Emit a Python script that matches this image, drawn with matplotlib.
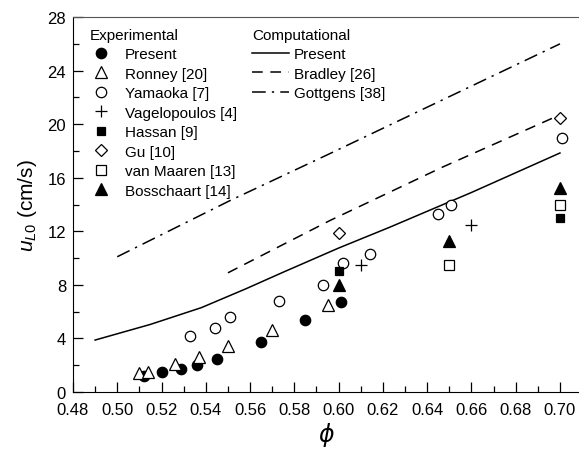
import numpy as np
import matplotlib.pyplot as plt
from matplotlib.lines import Line2D

plt.rcParams['font.family'] = ['Liberation Sans', 'DejaVu Sans']
plt.rcParams['mathtext.fontset'] = 'custom'
plt.rcParams['mathtext.rm'] = 'Liberation Sans'
plt.rcParams['mathtext.it'] = 'Liberation Sans:italic'

# experimental data (phi, u_L0)
present_x = [0.512, 0.520, 0.529, 0.536, 0.545, 0.565, 0.585, 0.601]
present_y = [1.2, 1.5, 1.7, 2.0, 2.5, 3.7, 5.4, 6.7]
ronney_x = [0.510, 0.514, 0.526, 0.537, 0.550, 0.570, 0.595]
ronney_y = [1.4, 1.5, 2.1, 2.6, 3.4, 4.6, 6.5]
yamaoka_x = [0.533, 0.544, 0.551, 0.573, 0.593, 0.602, 0.614, 0.645, 0.651, 0.701]
yamaoka_y = [4.2, 4.8, 5.6, 6.8, 8.0, 9.6, 10.3, 13.3, 14.0, 19.0]
vagel_x = [0.610, 0.660]
vagel_y = [9.5, 12.5]
hassan_x = [0.600, 0.700]
hassan_y = [9.0, 13.0]
gu_x = [0.600, 0.700]
gu_y = [11.9, 20.5]
maaren_x = [0.650, 0.700]
maaren_y = [9.5, 14.0]
bossch_x = [0.600, 0.650, 0.700]
bossch_y = [8.0, 11.3, 15.2]

# computational curves
comp_x = [0.49, 0.515, 0.538, 0.558, 0.575, 0.60, 0.623, 0.66, 0.70]
comp_y = [3.88, 5.05, 6.3, 7.7, 8.95, 10.75, 12.3, 14.9, 17.85]
bradley_x = [0.55, 0.596, 0.647, 0.70]
bradley_y = [8.9, 12.8, 16.8, 20.7]
gott_x = [0.50, 0.551, 0.596, 0.70]
gott_y = [10.1, 14.3, 17.8, 26.0]

fig = plt.figure(figsize=(5.79, 4.52), dpi=100)
ax = fig.add_axes([0.126, 0.1305, 0.874, 0.8295])

dash = (0, (7, 5))
dashdot = (0, (9, 4, 1.5, 4))
ax.plot(comp_x, comp_y, '-', color='black', lw=1.1)
ax.plot(bradley_x, bradley_y, color='black', lw=1.1, linestyle=dash)
ax.plot(gott_x, gott_y, color='black', lw=1.1, linestyle=dashdot)

mk = dict(linestyle='none', color='black', markeredgewidth=0.9)
ax.plot(present_x, present_y, 'o', ms=7.5, mfc='black', **mk)
ax.plot(ronney_x, ronney_y, '^', ms=8, mfc='white', **mk)
ax.plot(yamaoka_x, yamaoka_y, 'o', ms=7.5, mfc='white', **mk)
ax.plot(vagel_x, vagel_y, '+', ms=9, **mk)
ax.plot(hassan_x, hassan_y, 's', ms=6, mfc='black', **mk)
ax.plot(gu_x, gu_y, 'D', ms=6.5, mfc='white', **mk)
ax.plot(maaren_x, maaren_y, 's', ms=6.5, mfc='white', **mk)
ax.plot(bossch_x, bossch_y, '^', ms=8, mfc='black', **mk)

ax.set_xlim(0.48, 0.7086)
ax.set_ylim(0, 28)
ax.set_xticks(np.arange(0.48, 0.701, 0.02))
ax.set_xticklabels([f'{v:.2f}' for v in np.arange(0.48, 0.701, 0.02)])
ax.set_xticks(np.arange(0.49, 0.70, 0.02), minor=True)
ax.set_yticks(np.arange(0, 29, 4))
ax.set_yticks(np.arange(2, 28, 4), minor=True)
ax.tick_params(which='both', direction='in', labelsize=12, top=False, right=False)
ax.tick_params(which='major', length=7, width=0.9, pad=5)
ax.tick_params(which='minor', length=4, width=0.9)
ax.tick_params(axis='x', which='major', pad=7)
ax.spines['right'].set_visible(False)
ax.spines['top'].set_color('#555555')

ax.set_ylabel(r'$\mathit{u}_{\mathit{L0}}$ (cm/s)', fontsize=15, labelpad=6)
ax.set_xlabel('ϕ', fontsize=17, fontstyle='italic', family=['DejaVu Sans'], labelpad=4)

exp_handles = [
    Line2D([], [], marker='o', ms=7.5, mfc='black', **mk),
    Line2D([], [], marker='^', ms=8, mfc='white', **mk),
    Line2D([], [], marker='o', ms=7.5, mfc='white', **mk),
    Line2D([], [], marker='+', ms=9, **mk),
    Line2D([], [], marker='s', ms=6, mfc='black', **mk),
    Line2D([], [], marker='D', ms=6.5, mfc='white', **mk),
    Line2D([], [], marker='s', ms=6.5, mfc='white', **mk),
    Line2D([], [], marker='^', ms=8, mfc='black', **mk),
]
exp_labels = ['Present', 'Ronney [20]', 'Yamaoka [7]', 'Vagelopoulos [4]',
              'Hassan [9]', 'Gu [10]', 'van Maaren [13]', 'Bosschaart [14]']
leg1 = ax.legend(exp_handles, exp_labels, title='Experimental', loc='upper left',
                 bbox_to_anchor=(0.034, 0.972), frameon=False, fontsize=11,
                 title_fontsize=11, alignment='left', handlelength=1.4,
                 handletextpad=0.85, labelspacing=0.36, borderpad=0, borderaxespad=0)
ax.add_artist(leg1)

comp_handles = [
    Line2D([], [], color='black', lw=1.1),
    Line2D([], [], color='black', lw=1.1, linestyle=dash),
    Line2D([], [], color='black', lw=1.1, linestyle=dashdot),
]
comp_labels = ['Present', 'Bradley [26]', 'Gottgens [38]']
ax.legend(comp_handles, comp_labels, title='Computational', loc='upper left',
          bbox_to_anchor=(0.354, 0.972), frameon=False, fontsize=11,
          title_fontsize=11, alignment='left', handlelength=2.4,
          handletextpad=0.35, labelspacing=0.36, borderpad=0, borderaxespad=0)

fig.savefig('out.png', dpi=100)
